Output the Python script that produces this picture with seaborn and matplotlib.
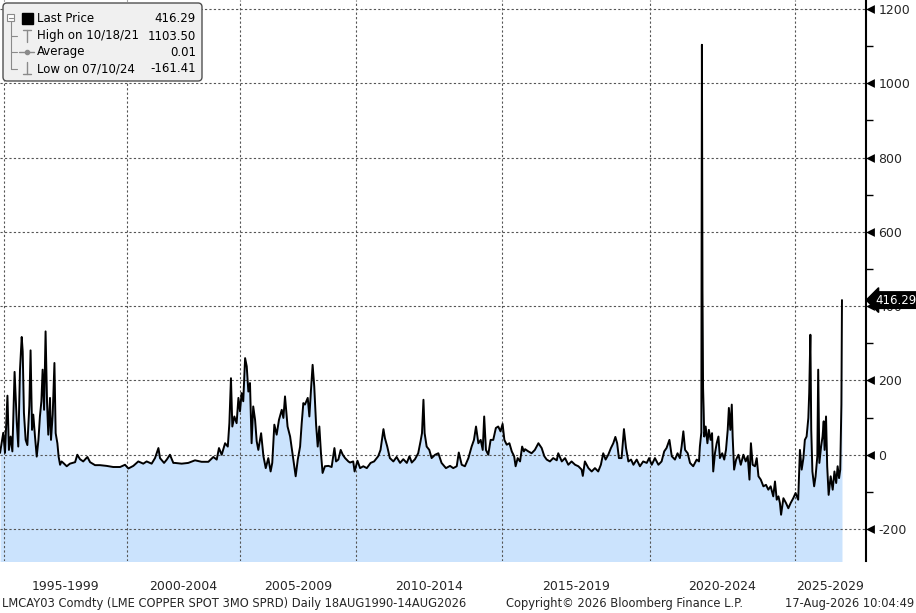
import numpy as np
import matplotlib
matplotlib.use("Agg")
import matplotlib.pyplot as plt
import matplotlib.transforms as mtransforms
from matplotlib.patches import FancyBboxPatch, Rectangle
import seaborn as sns

sns.set_style("white")
plt.rcParams['font.family'] = ['DejaVu Sans']

# LME copper spot - 3M spread (decimal year, $/t)
dates = [
    1994.84, 1994.97, 1995.04, 1995.14, 1995.20, 1995.27, 1995.34, 1995.43, 1995.52, 1995.58,
    1995.65, 1995.72, 1995.76, 1995.81, 1995.88, 1995.95, 1996.03, 1996.08, 1996.14, 1996.19,
    1996.26, 1996.33, 1996.40, 1996.46, 1996.52, 1996.57, 1996.63, 1996.69, 1996.75, 1996.80,
    1996.87, 1996.91, 1996.98, 1997.05, 1997.10, 1997.17, 1997.22, 1997.28, 1997.34, 1997.41,
    1997.55, 1997.68, 1997.89, 1997.98, 1998.09, 1998.22, 1998.39, 1998.50, 1998.70, 1998.90,
    1999.17, 1999.44, 1999.72, 1999.92, 2000.06, 2000.28, 2000.50, 2000.72, 2000.87, 2001.09,
    2001.24, 2001.39, 2001.46, 2001.64, 2001.76, 2001.90, 2002.05,
    2002.12, 2002.42, 2002.71, 2003.01, 2003.30, 2003.60, 2003.82, 2003.97, 2004.07, 2004.19,
    2004.34, 2004.46, 2004.53, 2004.60, 2004.66, 2004.75, 2004.85, 2004.93, 2005.00, 2005.07,
    2005.14, 2005.22, 2005.29, 2005.36, 2005.43, 2005.50, 2005.57, 2005.65, 2005.72, 2005.79,
    2005.91, 2006.01, 2006.11, 2006.22, 2006.32, 2006.39, 2006.48, 2006.58, 2006.68, 2006.80,
    2006.87, 2006.94, 2007.05, 2007.16, 2007.26, 2007.33, 2007.40, 2007.49, 2007.59, 2007.66,
    2007.73, 2007.80, 2007.92, 2007.99, 2008.06, 2008.13, 2008.20, 2008.28, 2008.35, 2008.42,
    2008.49, 2008.56, 2008.66, 2008.81, 2008.95, 2009.07, 2009.14, 2009.24, 2009.34, 2009.43,
    2009.53, 2009.67,
    2009.74, 2009.88, 2009.94, 2010.05, 2010.14, 2010.25, 2010.37, 2010.50, 2010.62, 2010.76,
    2010.84, 2010.94, 2010.99, 2011.07, 2011.16, 2011.28, 2011.39, 2011.51, 2011.62, 2011.74,
    2011.83, 2011.91, 2012.02, 2012.13, 2012.21, 2012.26, 2012.31, 2012.35, 2012.42, 2012.51,
    2012.59, 2012.71, 2012.82, 2012.93, 2013.08, 2013.22, 2013.33, 2013.45, 2013.52, 2013.62,
    2013.73, 2013.85, 2013.96, 2014.04, 2014.11, 2014.19, 2014.27, 2014.34, 2014.39, 2014.45,
    2014.53, 2014.61, 2014.70, 2014.79, 2014.87, 2014.95, 2015.02, 2015.08, 2015.16, 2015.25,
    2015.33, 2015.41, 2015.46, 2015.53, 2015.61, 2015.68, 2015.74,
    2015.78, 2015.89, 2016.00, 2016.11, 2016.23, 2016.34, 2016.43, 2016.51, 2016.62, 2016.73,
    2016.85, 2016.90, 2017.02, 2017.13, 2017.24, 2017.35, 2017.47, 2017.58, 2017.69, 2017.73,
    2017.80, 2017.92, 2018.03, 2018.14, 2018.25, 2018.34, 2018.42, 2018.50, 2018.59, 2018.68,
    2018.76, 2018.83, 2018.89, 2018.95, 2019.04, 2019.12, 2019.19, 2019.27, 2019.36, 2019.44,
    2019.55, 2019.66, 2019.77, 2019.89, 2019.97, 2020.06, 2020.17, 2020.29, 2020.40, 2020.49,
    2020.57, 2020.67, 2020.75, 2020.86, 2020.95, 2021.03, 2021.09, 2021.15, 2021.21, 2021.30,
    2021.38, 2021.49, 2021.61, 2021.69,
    2021.72, 2021.77, 2021.79, 2021.81, 2021.83, 2021.85, 2021.87, 2021.92, 2021.98, 2022.03,
    2022.09, 2022.14, 2022.18, 2022.24, 2022.30, 2022.36, 2022.41, 2022.49, 2022.56, 2022.62,
    2022.68, 2022.72, 2022.77, 2022.82, 2022.85, 2022.90, 2022.97, 2023.05, 2023.13, 2023.22,
    2023.30, 2023.37, 2023.43, 2023.48, 2023.54, 2023.62, 2023.68, 2023.74, 2023.82, 2023.91,
    2024.00, 2024.08, 2024.16, 2024.25, 2024.31, 2024.37, 2024.43, 2024.48, 2024.52, 2024.60,
    2024.69, 2024.77, 2024.85, 2024.94, 2025.02, 2025.11, 2025.17, 2025.23, 2025.29, 2025.34,
    2025.40, 2025.46, 2025.49, 2025.53, 2025.56, 2025.60, 2025.66, 2025.71, 2025.77, 2025.80,
    2025.84, 2025.90, 2025.95, 2025.99, 2026.02, 2026.07, 2026.11, 2026.16, 2026.23, 2026.30,
    2026.36, 2026.42, 2026.47, 2026.52, 2026.56, 2026.58, 2026.60, 2026.62,
]
spread = [
    5, 59, 5, 159, 13, 49, 9, 223, 86, 22,
    229, 317, 278, 113, 40, 26, 132, 281, 67, 108,
    49, -5, 40, 103, 144, 229, 121, 332, 139, 54,
    153, 40, 108, 247, 58, 31, -5, -27, -18, -22,
    -31, -24, -20, 0, -12, -18, -6, -20, -28, -28,
    -30, -33, -33, -27, -37, -30, -18, -24, -18, -24,
    -9, 18, -9, -22, -13, 0, -22,
    -22, -24, -22, -15, -19, -19, -6, -13, 18, 0,
    31, 22, 85, 206, 76, 103, 85, 153, 117, 166,
    144, 260, 238, 170, 193, 31, 130, 94, 36, 13,
    58, -4, -36, -9, -45, -22, 81, 54, 94, 121,
    99, 157, 76, 49, 4, -27, -58, -13, 22, 85,
    139, 135, 153, 103, 175, 242, 184, 81, 22, 76,
    4, -49, -31, -30, -33, 18, -18, -13, 13, 0,
    -9, -18,
    -21, -18, -45, -16, -36, -31, -36, -22, -18, -4,
    13, 69, 45, 22, -9, -18, -6, -22, -12, -22,
    -4, -21, -12, 4, 36, 58, 148, 58, 22, 13,
    -9, 0, 4, -22, -36, -30, -36, -31, 6, -27,
    -31, -9, 22, 40, 76, 31, 40, 13, 103, 13,
    0, 40, 40, 72, 76, 63, 83, 40, 27, 31,
    9, -4, -31, -9, -18, 22, 9,
    15, 9, 4, 13, 31, 18, -4, -13, -18, -9,
    -15, 4, -18, -9, -27, -18, -27, -31, -40, -57,
    -18, -36, -45, -36, -45, -27, 4, -13, 0, 18,
    31, 48, 31, -9, -9, 69, 18, -18, -13, -27,
    -13, -31, -18, -22, -9, -27, -9, -27, -18, 9,
    18, 40, -4, -13, 4, -9, 22, 63, 13, 4,
    -22, -31, -13, -18,
    22, 60, 1103.5, 440, 180, 121, 49, 76, 31, 67,
    40, 58, -45, 4, 31, 49, -9, 4, -13, 13,
    67, 126, 67, 135, 49, -40, -13, 0, -27, 0,
    -18, -4, -67, 31, -27, -31, -9, -58, -67, -85,
    -81, -94, -85, -112, -72, -121, -112, -130, -161.41, -117,
    -130, -144, -130, -117, -103, -121, 13, -40, -9, 40,
    49, 99, 166, 323, 67, -45, -85, -58, -4, 229,
    -22, 22, 49, 90, 13, 103, -31, -108, -58, -94,
    -45, -76, -31, -63, -40, 40, 135, 416.29,
]

period_starts = [1995, 2000, 2005, 2010, 2015, 2020, 2025]
period_labels = ["1995-1999", "2000-2004", "2005-2009", "2010-2014",
                 "2015-2019", "2020-2024", "2025-2029"]
y_major = list(range(-200, 1201, 200))
y_minor = list(range(-200, 1201, 100))

legend_rows = ["Last Price", "High on 10/18/21", "Average", "Low on 07/10/24"]
average_value = 0.01

# Bloomberg squeezes the early five-year blocks, so years map to screen piecewise
scale_years = [1990, 1995, 2000, 2005, 2010, 2015, 2020, 2025, 2030]
scale_pos = [-119, 4, 127, 240, 356, 502, 650, 795, 940]


def fwd(v):
    return np.interp(v, scale_years, scale_pos)


def inv(p):
    return np.interp(p, scale_pos, scale_years)


W, H = 916, 613
fig = plt.figure(figsize=(W / 100, H / 100), dpi=100)
ax = fig.add_axes([0, 52 / H, 866 / W, 561 / H])

ax.fill_between(dates, spread, -400, color="#cbe3fd", lw=0, zorder=1)
sns.lineplot(x=dates, y=spread, ax=ax, color="black", lw=1.4,
             estimator=None, sort=False, zorder=3)

ax.set_xscale("function", functions=(fwd, inv))
ax.set_xlim(float(inv(0)), float(inv(866)))
ax.set_ylim(-286, 1224)

# gridlines at block starts, labels centred in the blocks
ax.set_xticks(period_starts)
ax.set_xticklabels([])
x_right = float(inv(866))
mids = [(a + b) / 2 for a, b in zip(period_starts, period_starts[1:] + [x_right])]
ax.set_xticks(mids, minor=True)
ax.set_xticklabels(period_labels, minor=True, fontsize=9)
ax.tick_params(axis="x", which="both", length=0)
ax.tick_params(axis="x", which="minor", pad=14)

ax.yaxis.tick_right()
ax.set_yticks(y_major)
ax.set_yticks(y_minor, minor=True)
ax.set_yticklabels([str(v) for v in y_major], fontsize=9)
ax.tick_params(axis="y", which="major", length=0, pad=9)
ax.tick_params(axis="y", which="minor", length=5, width=1, color="black", direction="out")

ax.grid(True, which="major", color="#555555", ls=(0, (2, 2)), lw=0.8)
ax.set_axisbelow("line")
for s in ["top", "left", "bottom"]:
    ax.spines[s].set_visible(False)
ax.spines["right"].set_color("black")
ax.spines["right"].set_linewidth(1.5)
ax.set_xlabel("")
ax.set_ylabel("")

# arrow markers on the major ticks
tri = mtransforms.blended_transform_factory(ax.transAxes, ax.transData) + \
    mtransforms.ScaledTranslation(4 / 100, 0, fig.dpi_scale_trans)
ax.scatter([1.0] * len(y_major), y_major, marker="<", s=40, color="black",
           transform=tri, clip_on=False, zorder=5, lw=0)

# last price tag
blend = mtransforms.blended_transform_factory(ax.transAxes, ax.transData)
ax.annotate(f"{spread[-1]:.2f}", xy=(1.0, spread[-1]), xycoords=blend,
            xytext=(9, 0), textcoords="offset pixels", ha="left", va="center",
            fontsize=8.5, color="white", zorder=6, annotation_clip=False,
            bbox=dict(boxstyle="larrow,pad=0.15", fc="black", ec="black"))

# overlay in pixel coordinates for legend box and footer
ov = fig.add_axes([0, 0, 1, 1], zorder=10)
ov.set_xlim(0, W)
ov.set_ylim(H, 0)
ov.axis("off")
ov.patch.set_alpha(0)

ov.add_patch(FancyBboxPatch((3, 3), 199, 78, boxstyle="round,pad=0,rounding_size=4",
                            fc="#f0f0f0", ec="#505050", lw=1))
grey = "#8a8a8a"
ov.add_patch(Rectangle((7, 14), 7, 7, fc="white", ec=grey, lw=0.8))
ov.plot([8.5, 12.5], [17.5, 17.5], color=grey, lw=0.8)
ov.plot([10.5, 10.5], [21, 69], color=grey, lw=0.8)
for yy in [36, 52, 69]:
    ov.plot([10.5, 17], [yy, yy], color=grey, lw=0.8)
ov.add_patch(Rectangle((22, 13), 11, 11, fc="black", ec="black"))
ov.plot([23, 31], [30, 30], color=grey, lw=1)
ov.plot([27, 27], [30, 42], color=grey, lw=1)
ov.plot([19, 34], [52, 52], color=grey, lw=1)
ov.plot([26.5], [52], marker="o", ms=3, color=grey)
ov.plot([27, 27], [62, 74], color=grey, lw=1)
ov.plot([23, 31], [74, 74], color=grey, lw=1)

legend_vals = [spread[-1], max(spread), average_value, min(spread)]
for yy, lab, val in zip([19, 36, 52, 69], legend_rows, legend_vals):
    ov.text(37, yy, lab, fontsize=8.5, va="center", ha="left", color="black")
    ov.text(196, yy, f"{val:.2f}", fontsize=8.5, va="center", ha="right", color="black")

ov.text(2, 604, "LMCAY03 Comdty (LME COPPER SPOT 3MO SPRD) Daily 18AUG1990-14AUG2026",
        fontsize=8.3, va="center", ha="left")
ov.text(506, 604, "Copyright\u00a9 2026 Bloomberg Finance L.P.", fontsize=8.3,
        va="center", ha="left")
ov.text(914, 604, "17-Aug-2026 10:04:49", fontsize=8.3, va="center", ha="right")

fig.savefig("out.png", dpi=100)
